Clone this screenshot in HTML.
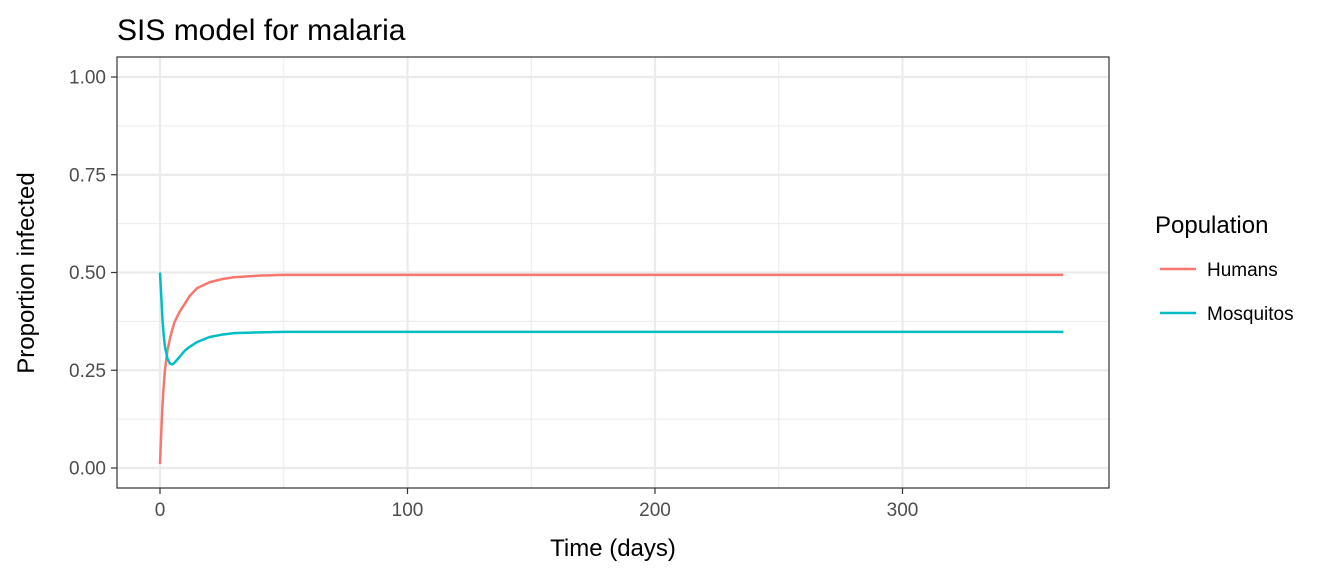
<!DOCTYPE html>
<html><head><meta charset="utf-8"><style>
body{margin:0;background:#fff;font-family:"Liberation Sans",sans-serif;}
</style></head><body>
<svg id="chart" width="1344" height="576" xmlns="http://www.w3.org/2000/svg" font-family="Liberation Sans, sans-serif">
<text x="117" y="40" font-size="30" fill="#000">SIS model for malaria</text>
<g id="grid"></g>
<g id="series"></g>
<rect x="117" y="57" width="992" height="431" fill="none" stroke="#333" stroke-width="1.2"/>
<g id="axes"></g>
<text transform="translate(34,273) rotate(-90)" text-anchor="middle" font-size="24" fill="#000">Proportion infected</text>
<text x="613" y="556" text-anchor="middle" font-size="24" fill="#000">Time (days)</text>
<text x="1155" y="233" font-size="24" fill="#000">Population</text>
<g>
<line x1="1160" y1="269" x2="1196" y2="269" stroke="#F8766D" stroke-width="2.5"/>
<text x="1207" y="276" font-size="19" fill="#000">Humans</text></g>
<g>
<line x1="1160" y1="313" x2="1196" y2="313" stroke="#00BFC4" stroke-width="2.5"/>
<text x="1207" y="320" font-size="19" fill="#000">Mosquitos</text></g>
</svg>
<script>
const times=[0,0.5,1,1.5,2,3,4,5,6,8,10,12,15,20,25,30,40,50,100,200,365];
const humans=[0.01,0.09,0.16,0.21,0.25,0.30,0.33,0.355,0.375,0.40,0.42,0.44,0.46,0.475,0.483,0.488,0.492,0.494,0.494,0.494,0.494];
const mosquitos=[0.50,0.44,0.38,0.34,0.31,0.28,0.267,0.265,0.27,0.285,0.30,0.31,0.322,0.335,0.341,0.345,0.347,0.348,0.348,0.348,0.348];
const xTicks=[0,100,200,300];
const xMinor=[50,150,250,350];
const yTicks=[0,0.25,0.5,0.75,1];
const yTickLabels=["0.00","0.25","0.50","0.75","1.00"];
const yMinor=[0.125,0.375,0.625,0.875];
const NS="http://www.w3.org/2000/svg";
function sx(v){return 160+v*2.475;}
function sy(v){return 468-v*391;}
function mk(tag,attrs,parent){const e=document.createElementNS(NS,tag);for(const k in attrs)e.setAttribute(k,attrs[k]);parent.appendChild(e);return e;}
const grid=document.getElementById('grid'),axes=document.getElementById('axes'),ser=document.getElementById('series');
yMinor.forEach(v=>{const l=mk('line',{x1:117,x2:1109,y1:sy(v),y2:sy(v),stroke:'#ebebeb','stroke-width':1},grid);

});
xMinor.forEach(v=>{const l=mk('line',{x1:sx(v),x2:sx(v),y1:57,y2:488,stroke:'#ebebeb','stroke-width':1},grid);

});
yTicks.forEach((v,i)=>{const l=mk('line',{x1:117,x2:1109,y1:sy(v),y2:sy(v),stroke:'#ebebeb','stroke-width':2.2},grid);


const t=mk('line',{x1:111,x2:117,y1:sy(v),y2:sy(v),stroke:'#333','stroke-width':1.2},axes);


const tx=mk('text',{x:106,y:sy(v)+6.5,'text-anchor':'end','font-size':19,fill:'#4d4d4d'},axes);
tx.textContent=yTickLabels[i];

});
xTicks.forEach(v=>{const l=mk('line',{x1:sx(v),x2:sx(v),y1:57,y2:488,stroke:'#ebebeb','stroke-width':2.2},grid);


const t=mk('line',{x1:sx(v),x2:sx(v),y1:488,y2:494,stroke:'#333','stroke-width':1.2},axes);


const tx=mk('text',{x:sx(v),y:516,'text-anchor':'middle','font-size':19,fill:'#4d4d4d'},axes);
tx.textContent=String(v);

});
function line(vals,color,name){const pts=times.map((t,i)=>sx(t).toFixed(2)+','+sy(vals[i]).toFixed(2)).join(' ');
const p=mk('polyline',{points:pts,fill:'none',stroke:color,'stroke-width':2.5,'stroke-linejoin':'round'},ser);

}
line(humans,'#F8766D','humans-line');
line(mosquitos,'#00BFC4','mosquitos-line');
</script>
</body></html>
